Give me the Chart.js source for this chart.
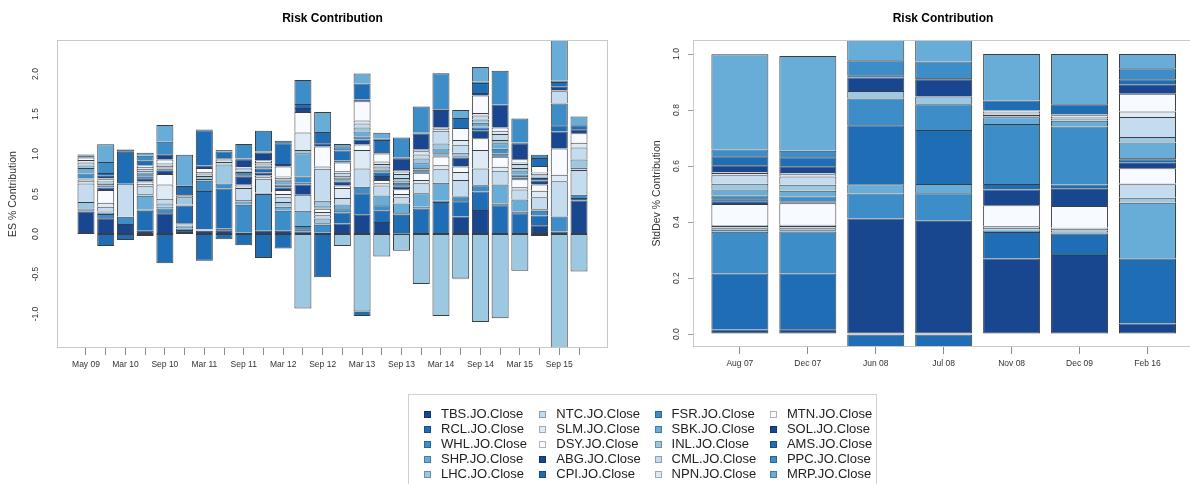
<!DOCTYPE html>
<html lang="en">
<head>
<meta charset="utf-8">
<title>Risk Contribution</title>
<script src="https://cdn.jsdelivr.net/npm/chart.js@4.4.1/dist/chart.umd.min.js"></script>
<style>
  html, body { margin: 0; padding: 0; background: #fff; width: 1190px; height: 484px; overflow: hidden; position: relative; }
  canvas { position: absolute; top: 0; }
  #esChart { left: 0; }
  #sdChart { left: 640px; }
  #legend { position: absolute; left: 408px; top: 394px; width: 469px; height: 110px; border: 1px solid #d0d0d0; box-sizing: border-box;
            font-family: 'Liberation Sans', Arial, Helvetica, sans-serif; font-size: 13px; color: #222; }
  #legend .key { position: absolute; width: 7px; height: 7px; box-sizing: border-box; border: 1px solid rgba(0,0,0,0.28); }
  #legend .name { position: absolute; line-height: 15px; white-space: nowrap; }
</style>
</head>
<body>
<canvas id="esChart" width="608" height="400"></canvas>
<canvas id="sdChart" width="553" height="400"></canvas>
<div id="legend"></div>
<script>
// ---- series (stacking order, bottom to top) ----
const seriesNames = [
  'TBS.JO.Close', 'RCL.JO.Close', 'WHL.JO.Close', 'SHP.JO.Close', 'LHC.JO.Close',
  'NTC.JO.Close', 'SLM.JO.Close', 'DSY.JO.Close', 'ABG.JO.Close', 'CPI.JO.Close',
  'FSR.JO.Close', 'SBK.JO.Close', 'INL.JO.Close', 'CML.JO.Close', 'NPN.JO.Close',
  'MTN.JO.Close', 'SOL.JO.Close', 'AMS.JO.Close', 'PPC.JO.Close', 'MRP.JO.Close'
];

// ---- ES % contribution, one value per rebalance date ----
const esDates = ['May 09', '', 'Mar 10', '', 'Sep 10', '', 'Mar 11', '', 'Sep 11', '', 'Mar 12', '', 'Sep 12', '',
                 'Mar 13', '', 'Sep 13', '', 'Mar 14', '', 'Sep 14', '', 'Mar 15', '', 'Sep 15', ''];
const esTicks = [-1.0, -0.5, 0.0, 0.5, 1.0, 1.5, 2.0];

const esTBS = [.28, .196, .125, .042, .26, .025, .04, .04, .015, .04, .04, .03, .015, .13, .24, .15, .01, 0, 0, .22, .3, 0, 0, .11, .03, .42];
const esRCL = [.01, -.15, -.075, .25, -.367, .025, -.333, -.067, -.14, -.30, -.18, .03, -.54, .14, .27, .14, .23, .32, .4, .19, .23, .36, .26, .12, 0, .03];
const esWHL = [.01, .054, .092, .01, .06, .02, .003, 0, .35, .46, .25, .04, .1, .04, .08, .07, .02, .02, .02, .06, .08, .02, .02, .06, .19, .04];
const esSHP = [.02, .015, 0, .175, .02, .02, .002, 0, .04, .01, .05, .19, .02, .06, 0, .12, .12, .17, .22, .005, 0, .24, .15, .02, 0, 0];
const esLHC = [.08, .015, 0, .02, .04, .01, .002, 0, .02, .01, .06, -.93, .06, -.15, -.97, -.28, -.21, -.625, -1.025, -.555, -1.1, -1.054, -.458, 0, -1.55, -.47];
const esNTC = [.23, .06, .41, .1, .06, .01, .002, 0, .15, .17, .06, .2, .04, .08, .23, .125, .08, .125, .17, .2, .21, .17, .125, .15, .44, .31];
const esSLM = [.03, .05, 0, .03, .18, .005, .002, 0, .02, .02, .04, 0, .04, .125, .23, .03, .04, .04, .05, .1, .23, .05, .03, .08, .08, .01];
const esDSY = [.02, .16, 0, .03, .13, .005, .002, 0, .02, .02, .05, 0, .04, .03, .07, .04, .06, .09, .11, .07, .146, .125, .1, .08, .33, 0];
const esABG = [.005, .03, 0, .04, .04, .015, .003, .03, .1, .04, .03, .13, .005, .05, .06, .05, .03, .02, .01, .11, .096, .02, .02, .05, .21, .02];
const esCPI = [.01, .005, .40, .02, .02, .22, .48, .5, .02, .05, .02, .02, .005, .01, -.055, .04, .02, .02, .01, .01, .04, .02, .02, .03, .08, 0];
const esFSR = [.06, .02, 0, .03, .01, .005, .13, .06, .04, .02, .02, .08, .01, .02, .04, .02, .03, .02, .02, .01, .01, .06, .02, .01, .27, 0];
const esSBK = [.07, .02, 0, .02, .01, .01, .02, 0, .01, .01, .04, .29, .02, .02, .06, .02, .03, .06, .06, .01, .05, .07, .04, .01, 0, 0];
const esINL = [.03, .02, 0, .02, .02, .09, .04, .24, .01, .01, .02, .04, .06, .02, .05, .04, .03, .06, .06, .03, .04, .04, .04, .01, .005, .1];
const esCML = [.04, .02, 0, .03, .02, .02, .03, .03, .02, .02, .02, 0, .40, .04, .05, .03, .05, .05, .16, .1, .05, .075, .05, .02, .15, .15];
const esNPN = [.03, .02, 0, .02, .02, 0, .02, .03, .01, .02, .02, .22, .03, .02, .04, .03, .03, .04, .02, .06, .03, .04, .02, .02, .005, .06];
const esMTN = [.03, .01, 0, .02, .04, 0, .05, .01, .01, .02, .125, .255, .25, .11, .24, .1, .02, .02, .02, .15, .22, .04, .04, .08, .01, .12];
const esSOL = [.025, .033, .03, -.025, .06, .02, .03, .01, .1, .1, .03, .05, .04, .025, .02, .02, .146, .2, .22, -.012, .03, .29, .2, -.025, .04, .05];
const esAMS = [.01, .033, 0, .06, .01, .1, .44, .08, .01, .01, .26, .05, .14, .125, .2, .15, .01, .01, .01, .125, .125, 0, .01, .1, .06, .05];
const esPPC = [.005, .14, 0, .06, .154, .01, .005, .02, .18, .26, .03, .30, 0, .04, 0, .02, .25, .33, .45, 0, .02, .42, .3, .04, .02, 0];
const esMRP = [.005, .22, 0, .04, .21, .38, .005, 0, 0, 0, 0, 0, .25, .04, .125, .07, 0, 0, 0, .1, .18, 0, 0, 0, .6, .11];

// ---- StdDev % contribution ----
const sdDates = ['Aug 07', 'Dec 07', 'Jun 08', 'Jul 08', 'Nov 08', 'Dec 09', 'Feb 16'];
const sdTicks = [0.0, 0.2, 0.4, 0.6, 0.8, 1.0];

const sdTBS = [.0167, .017, .413, .405, .270, .282, .038];
const sdRCL = [.200, .199, -.06, -.06, .095, .077, .232];
const sdWHL = [.149, .150, .089, .098, .004, .003, .002];
const sdSHP = [.006, .005, .033, .033, .004, .003, .197];
const sdLHC = [.006, .007, 0, 0, .006, .005, .018];
const sdNTC = [.008, .008, 0, 0, .006, .006, .048];
const sdSLM = [.004, .004, 0, 0, 0, .004, .003];
const sdDSY = [.075, .077, 0, 0, .075, .077, .054];
const sdABG = [.0095, .004, 0, 0, .056, .062, .020];
const sdCPI = [.007, .003, .211, .193, .020, .015, .012];
const sdFSR = [.014, .017, .095, .092, .214, .207, .005];
const sdSBK = [.021, .021, 0, 0, .024, .021, .055];
const sdINL = [.021, .021, .027, .027, .008, .008, .020];
const sdCML = [.030, .030, 0, 0, .006, .006, .071];
const sdNPN = [.008, .008, 0, 0, .006, .005, .020];
const sdMTN = [.004, .004, 0, 0, .004, .004, .063];
const sdSOL = [.024, .024, .048, .062, 0, 0, .032];
const sdAMS = [.032, .032, .008, .004, .036, .036, .020];
const sdPPC = [.024, .024, .054, .059, 0, 0, .039];
const sdMRP = [.340, .338, .081, .087, .166, .179, .051];

const esColumns = [esTBS, esRCL, esWHL, esSHP, esLHC, esNTC, esSLM, esDSY, esABG, esCPI,
                   esFSR, esSBK, esINL, esCML, esNPN, esMTN, esSOL, esAMS, esPPC, esMRP];
const sdColumns = [sdTBS, sdRCL, sdWHL, sdSHP, sdLHC, sdNTC, sdSLM, sdDSY, sdABG, sdCPI,
                   sdFSR, sdSBK, sdINL, sdCML, sdNPN, sdMTN, sdSOL, sdAMS, sdPPC, sdMRP];

// eight-step blues, cycled over the twenty series
const blues = ['#19478f', '#1f6db4', '#3d8ec8', '#68acd8', '#9cc8e2', '#c5dbef', '#deebf7', '#f7fbff'];
const seriesColors = seriesNames.map((_, k) => blues[k % blues.length]);

const FONT = "'Liberation Sans', Arial, Helvetica, sans-serif";
Chart.defaults.font.family = FONT;

// light box around the plotting region
const framePlugin = {
  id: 'plotFrame',
  afterDatasetsDraw(chart) {
    const { ctx, chartArea: a } = chart;
    const l = Math.round(a.left) + 0.5, t = Math.round(a.top) + 0.5;
    const r = Math.round(a.right) - 0.5, b = Math.round(a.bottom) - 0.5;
    ctx.save();
    ctx.strokeStyle = '#c9c9c9';
    ctx.lineWidth = 1;
    ctx.strokeRect(l, t, r - l, b - t);
    ctx.restore();
  }
};

// one outline per segment edge: the shared edge between stacked pieces is drawn once
function segmentBorders(columns, d) {
  return (ctx) => {
    const i = ctx.dataIndex;
    const v = columns[d][i];
    let first = true;
    for (let k = 0; k < d; k++) {
      const w = columns[k][i];
      if ((v >= 0 && w > 0) || (v < 0 && w < 0)) { first = false; break; }
    }
    return v >= 0
      ? { top: 1, left: 1, right: 1, bottom: first ? 1 : 0 }
      : { top: first ? 1 : 0, left: 1, right: 1, bottom: 1 };
  };
}

function drawPanel(canvasId, p) {
  const datasets = p.columns.map((vals, d) => ({
    label: seriesNames[d],
    data: vals.map((v, i) => ({ x: i, y: v })),
    backgroundColor: seriesColors[d],
    borderColor: 'rgba(40,40,40,0.9)',
    borderWidth: segmentBorders(p.columns, d),
    borderSkipped: false,
    inflateAmount: 0,
    barThickness: p.barPx,
    clip: 0
  }));

  return new Chart(document.getElementById(canvasId), {
    type: 'bar',
    data: { datasets },
    options: {
      responsive: false,
      animation: false,
      events: [],
      layout: { padding: 0 },
      plugins: {
        legend: { display: false },
        tooltip: { enabled: false },
        title: {
          display: true, text: 'Risk Contribution', fullSize: false, color: '#000',
          font: { size: 12, weight: 'bold' }, padding: { top: 11, bottom: 14.6 }
        }
      },
      scales: {
        x: {
          type: 'linear', stacked: true, min: p.xMin, max: p.xMax, offset: false,
          afterBuildTicks: (s) => { s.ticks = p.labels.map((_, i) => ({ value: i })); },
          afterFit: (s) => { s.height = p.xAxisHeight; },
          ticks: {
            autoSkip: false, minRotation: 0, maxRotation: 0, padding: 5, color: '#333',
            font: { size: 8.5 }, callback: (v) => p.labels[v] ?? ''
          },
          grid: { display: true, offset: false, drawOnChartArea: false, drawTicks: true, tickLength: 7, color: '#8c8c8c', lineWidth: 1 },
          border: { display: false }
        },
        y: {
          type: 'linear', stacked: true, min: p.yMin, max: p.yMax,
          afterBuildTicks: (s) => { s.ticks = p.yTicks.map((v) => ({ value: v })); },
          afterFit: (s) => { s.width = p.yAxisWidth; },
          ticks: {
            minRotation: 90, maxRotation: 90, crossAlign: 'center', padding: p.yTickPad,
            color: '#333', font: { size: 8.5 }, callback: (v) => Number(v).toFixed(1)
          },
          grid: { display: p.yTickMarks, offset: false, drawOnChartArea: false, drawTicks: p.yTickMarks, tickLength: 5, color: '#999' },
          border: { display: false },
          title: {
            display: true, text: p.yTitle, color: '#333', font: { size: 10.5 },
            padding: { top: p.yTitlePad, bottom: 0 }
          }
        }
      }
    },
    plugins: [framePlugin]
  });
}

drawPanel('esChart', {
  columns: esColumns, labels: esDates, yTicks: esTicks,
  xMin: -1.47, xMax: 26.47, yMin: -1.425, yMax: 2.425,
  barPx: 17, xAxisHeight: 52, yAxisWidth: 57, yTickPad: 14, yTickMarks: false,
  yTitle: 'ES % Contribution', yTitlePad: 6.7
});

drawPanel('sdChart', {
  columns: sdColumns, labels: sdDates, yTicks: sdTicks,
  xMin: -0.69, xMax: 6.67, yMin: -0.046, yMax: 1.05,
  barPx: 57, xAxisHeight: 53, yAxisWidth: 53, yTickPad: 5, yTickMarks: true,
  yTitle: 'StdDev % Contribution', yTitlePad: 10.7
});

// legend, filled column by column
const legendBox = document.getElementById('legend');
seriesNames.forEach((name, k) => {
  const col = Math.floor(k / 5), row = k % 5;
  const key = document.createElement('div');
  key.className = 'key';
  key.style.left = (15 + col * 115.3) + 'px';
  key.style.top = (15.5 + row * 15) + 'px';
  key.style.background = seriesColors[k];
  const label = document.createElement('div');
  label.className = 'name';
  label.style.left = (32 + col * 115.3) + 'px';
  label.style.top = (11 + row * 15) + 'px';
  label.textContent = name;
  legendBox.append(key, label);
});
</script>
</body>
</html>
